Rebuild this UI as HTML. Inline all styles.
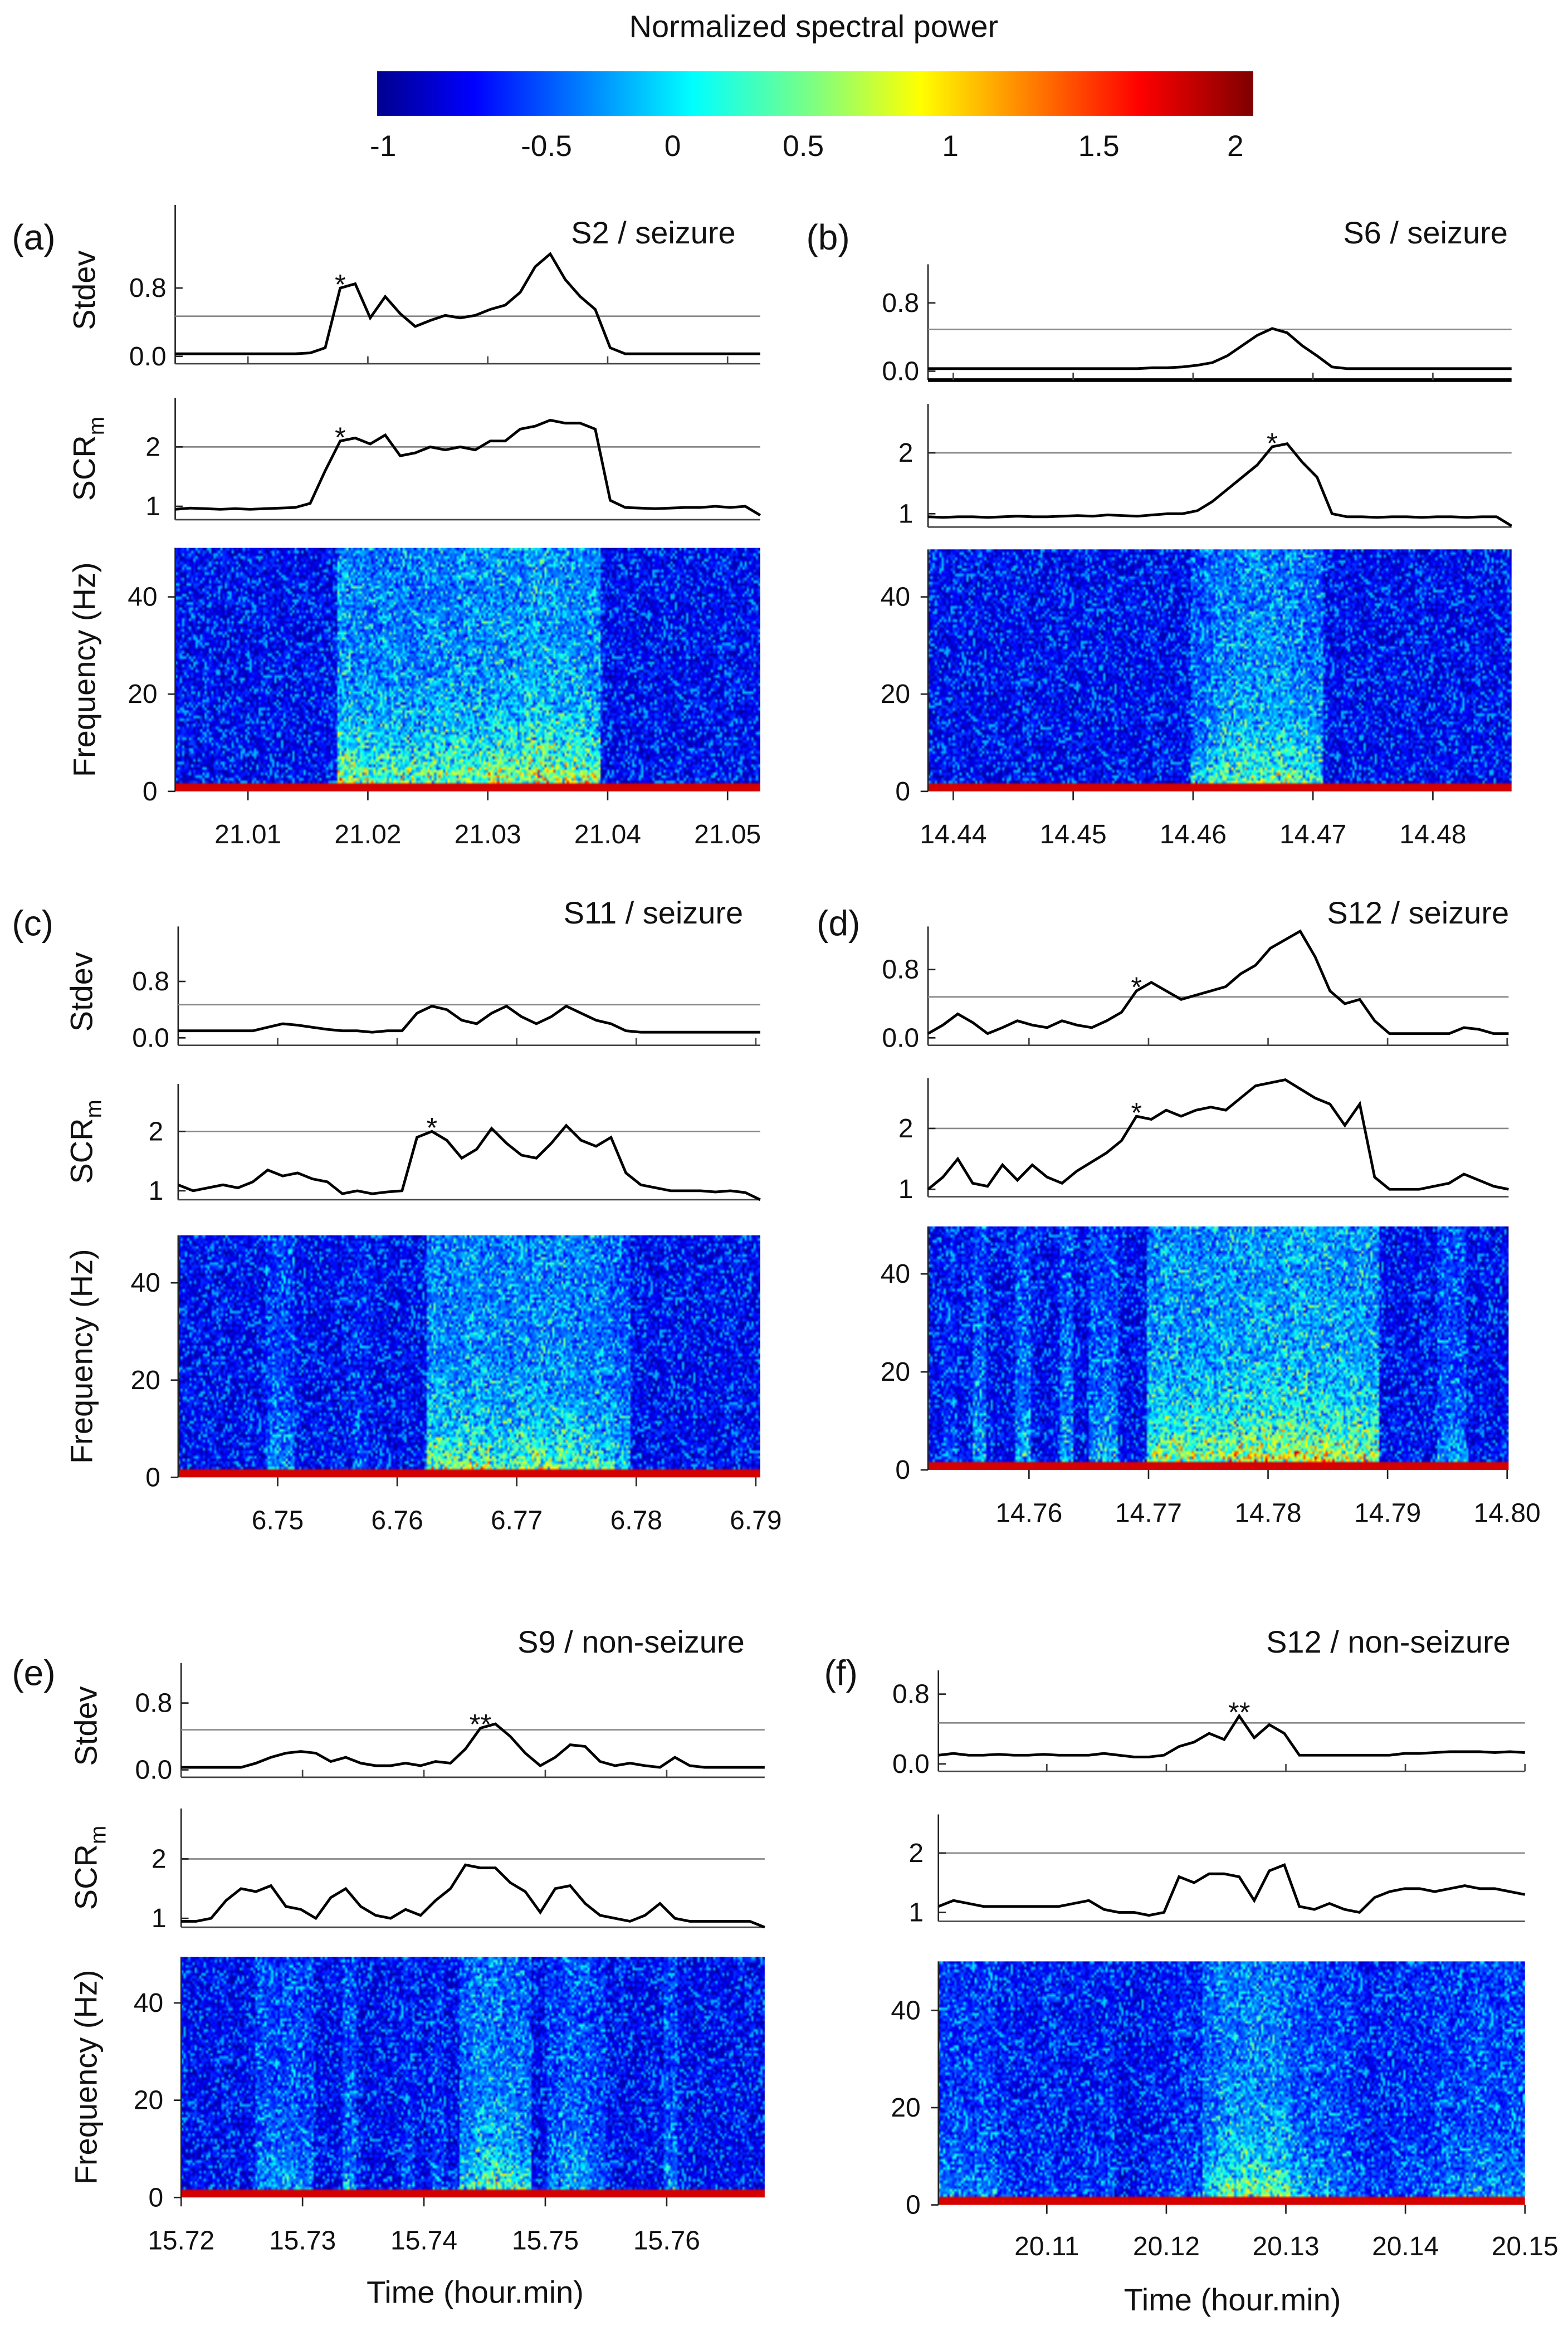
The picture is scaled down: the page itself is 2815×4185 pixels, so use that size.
<!DOCTYPE html>
<html><head><meta charset="utf-8"><style>
html,body{margin:0;padding:0;background:#fff;}
#wrap{position:absolute;left:0;top:0;width:1056px;height:1570px;transform:scale(2.66572);transform-origin:0 0;}
canvas{position:absolute;}
svg{position:absolute;left:0;top:0;}
text{font-family:"Liberation Sans",sans-serif;fill:#111;}
</style></head><body>
<div id="wrap">
<svg id="svg" width="1056" height="1570" viewBox="0 0 1056 1570">
<defs><linearGradient id="jet" x1="0" x2="1" y1="0" y2="0">
<stop offset="0" stop-color="#00008f"/><stop offset="0.11" stop-color="#0000ff"/><stop offset="0.36" stop-color="#00ffff"/><stop offset="0.5" stop-color="#7fff7f"/><stop offset="0.62" stop-color="#ffff00"/><stop offset="0.87" stop-color="#ff0000"/><stop offset="1" stop-color="#7f0000"/></linearGradient></defs>
<text x="548" y="25" font-size="21" text-anchor="middle">Normalized spectral power</text>
<rect x="254" y="48" width="590" height="30" fill="url(#jet)"/>
</svg>
</div>
<script>
// ---- data ----
const sdA=[0.03,0.03,0.03,0.03,0.03,0.03,0.03,0.03,0.03,0.04,0.1,0.8,0.85,0.45,0.7,0.5,0.35,0.42,0.48,0.45,0.48,0.55,0.6,0.75,1.05,1.2,0.9,0.7,0.55,0.1,0.03,0.03,0.03,0.03,0.03,0.03,0.03,0.03,0.03,0.03];
const scrA=[0.95,0.97,0.96,0.95,0.96,0.95,0.96,0.97,0.98,1.05,1.6,2.1,2.15,2.05,2.2,1.85,1.9,2.0,1.95,2.0,1.95,2.1,2.1,2.3,2.35,2.45,2.4,2.4,2.3,1.1,0.98,0.97,0.96,0.97,0.98,0.98,1.0,0.98,1.0,0.85];
const sdB=[0.03,0.03,0.03,0.03,0.03,0.03,0.03,0.03,0.03,0.03,0.03,0.03,0.03,0.03,0.03,0.04,0.04,0.05,0.07,0.1,0.18,0.3,0.42,0.5,0.45,0.3,0.18,0.05,0.03,0.03,0.03,0.03,0.03,0.03,0.03,0.03,0.03,0.03,0.03,0.03];
const scrB=[0.95,0.94,0.95,0.95,0.94,0.95,0.96,0.95,0.95,0.96,0.97,0.96,0.98,0.97,0.96,0.98,1.0,1.0,1.05,1.2,1.4,1.6,1.8,2.1,2.15,1.85,1.6,1.0,0.95,0.95,0.94,0.95,0.95,0.94,0.95,0.95,0.94,0.95,0.95,0.8];
const sdC=[0.1,0.1,0.1,0.1,0.1,0.1,0.15,0.2,0.18,0.15,0.12,0.1,0.1,0.08,0.1,0.1,0.35,0.45,0.4,0.25,0.2,0.35,0.45,0.3,0.2,0.3,0.45,0.35,0.25,0.2,0.1,0.08,0.08,0.08,0.08,0.08,0.08,0.08,0.08,0.08];
const scrC=[1.1,1.0,1.05,1.1,1.05,1.15,1.35,1.25,1.3,1.2,1.15,0.95,1.0,0.95,0.98,1.0,1.9,2.0,1.85,1.55,1.7,2.05,1.8,1.6,1.55,1.8,2.1,1.85,1.75,1.9,1.3,1.1,1.05,1.0,1.0,1.0,0.98,1.0,0.97,0.85];
const sdD=[0.05,0.15,0.28,0.18,0.05,0.12,0.2,0.15,0.12,0.2,0.15,0.12,0.2,0.3,0.55,0.65,0.55,0.45,0.5,0.55,0.6,0.75,0.85,1.05,1.15,1.25,0.95,0.55,0.4,0.45,0.2,0.05,0.05,0.05,0.05,0.05,0.12,0.1,0.05,0.05];
const scrD=[1.0,1.2,1.5,1.1,1.05,1.4,1.15,1.4,1.2,1.1,1.3,1.45,1.6,1.8,2.2,2.15,2.3,2.2,2.3,2.35,2.3,2.5,2.7,2.75,2.8,2.65,2.5,2.4,2.05,2.4,1.2,1.0,1.0,1.0,1.05,1.1,1.25,1.15,1.05,1.0];
const sdE=[0.03,0.03,0.03,0.03,0.03,0.08,0.15,0.2,0.22,0.2,0.1,0.15,0.08,0.05,0.05,0.08,0.05,0.1,0.08,0.25,0.5,0.55,0.4,0.2,0.05,0.15,0.3,0.28,0.1,0.05,0.08,0.05,0.03,0.15,0.05,0.03,0.03,0.03,0.03,0.03];
const scrE=[0.95,0.95,1.0,1.3,1.5,1.45,1.55,1.2,1.15,1.0,1.35,1.5,1.2,1.05,1.0,1.15,1.05,1.3,1.5,1.9,1.85,1.85,1.6,1.45,1.1,1.5,1.55,1.25,1.05,1.0,0.95,1.05,1.25,1.0,0.95,0.95,0.95,0.95,0.95,0.85];
const sdF=[0.1,0.12,0.1,0.1,0.11,0.1,0.1,0.11,0.1,0.1,0.1,0.12,0.1,0.08,0.08,0.1,0.2,0.25,0.35,0.28,0.55,0.3,0.45,0.35,0.1,0.1,0.1,0.1,0.1,0.1,0.1,0.12,0.12,0.13,0.14,0.14,0.14,0.13,0.14,0.13];
const scrF=[1.1,1.2,1.15,1.1,1.1,1.1,1.1,1.1,1.1,1.15,1.2,1.05,1.0,1.0,0.95,1.0,1.6,1.5,1.65,1.65,1.6,1.2,1.7,1.8,1.1,1.05,1.15,1.05,1.0,1.25,1.35,1.4,1.4,1.35,1.4,1.45,1.4,1.4,1.35,1.3];
const actA=[0,0,0,0,0,0,0,0,0,0,0,1.0,0.9,0.8,0.9,0.8,0.8,0.9,0.9,0.9,0.9,1.0,1.0,1.0,1.1,1.1,1.0,1.0,0.9,0,0,0,0,0,0,0,0,0,0,0];
const actB=[0,0,0,0,0,0,0,0,0,0,0,0,0,0,0,0,0,0,0.5,0.7,0.8,0.9,0.9,0.9,0.85,0.8,0.7,0,0,0,0,0,0,0,0,0,0,0,0,0];
const actC=[0,0,0,0,0,0,0.35,0.35,0,0,0,0,0.2,0,0,0,0,0.9,0.85,0.85,0.9,0.85,0.8,0.9,0.9,0.85,0.9,0.8,0.75,0.65,0.55,0,0,0,0,0,0,0,0,0];
const actD=[0,0.2,0,0.5,0,0,0.5,0,0,0.5,0,0.4,0.5,0,0,0.9,1.0,1.0,0.95,1.0,1.0,1.05,1.1,1.1,1.1,1.15,1.1,1.1,1.05,1.0,1.0,0,0,0,0,0.4,0.4,0,0,0];
const actE=[0,0,0,0,0,0.4,0.4,0.4,0.35,0,0,0.4,0,0,0,0.2,0,0.2,0,0.6,0.75,0.8,0.7,0.6,0,0.3,0.5,0.5,0.3,0,0,0,0,0.4,0,0,0,0,0,0];
const actF=[0.3,0.3,0.3,0.3,0.15,0.1,0.1,0.15,0.1,0.1,0.1,0.2,0,0,0.1,0.1,0.2,0.2,0.6,0.85,0.85,0.85,0.85,0.8,0.5,0.4,0.4,0.35,0.2,0.1,0.15,0.2,0.2,0.2,0.3,0.3,0.4,0.4,0.35,0.35];
const ticksA=[21.01,21.02,21.03,21.04,21.05], ticksB=[14.44,14.45,14.46,14.47,14.48], ticksC=[6.75,6.76,6.77,6.78,6.79], ticksD=[14.76,14.77,14.78,14.79,14.80], ticksE=[15.72,15.73,15.74,15.75,15.76], ticksF=[20.11,20.12,20.13,20.14,20.15];
const cbTicks=['-1','-0.5','0','0.5','1','1.5','2'];
// ---- layout ----
const NS='http://www.w3.org/2000/svg';
const svg=document.getElementById('svg');
const wrap=document.getElementById('wrap');
function el(tag,attrs,parent){const e=document.createElementNS(NS,tag);for(const k in attrs)e.setAttribute(k,attrs[k]);(parent||svg).appendChild(e);return e;}
function txt(x,y,s,size,anchor,parent){const t=el('text',{x:x,y:y,'font-size':size,'text-anchor':anchor||'middle'},parent);t.textContent=s;return t;}
const cbX=[258,368,453,541,640,740,832];
cbTicks.forEach((s,i)=>{const t=txt(cbX[i],105,s,20);});

const panels=[
{id:'a',lab:'(a)',labx:8,laby:168,title:'S2 / seizure',tx:440,ty:164,x0:118,x1:512,sd:[sdA,138,245,240,194],thr:0.47,scr:[scrA,268,350,341,301],spec:[369,533,402],act:actA,ticks:ticksA,tk:[167,490],ty2:568,titles:57,star:[[11,'sd','*'],[11,'scr','*']]},
{id:'b',lab:'(b)',labx:543,laby:168,title:'S6 / seizure',tx:960,ty:164,x0:625,x1:1018,sd:[sdB,178,256,250,204],thr:0.49,scr:[scrB,272,355,346,305],spec:[370,533,402],act:actB,ticks:ticksB,tk:[642,965],ty2:568,titles:0,star:[[23,'scr','*']],thick:true},
{id:'c',lab:'(c)',labx:8,laby:630,title:'S11 / seizure',tx:440,ty:622,x0:120,x1:512,sd:[sdC,624,704,699,661],thr:0.47,scr:[scrC,730,808,802,762],spec:[832,995,864],act:actC,ticks:ticksC,tk:[187,509],ty2:1030,titles:55,star:[[17,'scr','*']]},
{id:'d',lab:'(d)',labx:550,laby:630,title:'S12 / seizure',tx:955,ty:622,x0:625,x1:1016,sd:[sdD,624,704,699,653],thr:0.48,scr:[scrD,726,806,801,760],spec:[826,990,858],act:actD,ticks:ticksD,tk:[693,1015],ty2:1025,titles:0,star:[[14,'sd','*'],[14,'scr','*']]},
{id:'e',lab:'(e)',labx:8,laby:1135,title:'S9 / non-seizure',tx:425,ty:1113,x0:122,x1:515,sd:[sdE,1120,1197,1192,1147],thr:0.48,scr:[scrE,1218,1298,1292,1252],spec:[1318,1480,1349],act:actE,ticks:ticksE,tk:[122,449],ty2:1515,titles:58,star:[[20,'sd','**']],xlabel:[320,1551]},
{id:'f',lab:'(f)',labx:555,laby:1135,title:'S12 / non-seizure',tx:935,ty:1113,x0:632,x1:1027,sd:[sdF,1125,1193,1188,1141],thr:0.47,scr:[scrF,1222,1294,1288,1248],spec:[1321,1485,1354],act:actF,ticks:ticksF,tk:[705,1027],ty2:1519,titles:0,star:[[20,'sd','**']],xlabel:[830,1556]}
];
let seed=12345;function rnd(){seed=(seed*1103515245+12345)&0x7fffffff;return seed/0x7fffffff;}
function jet(v){let t=(v+1)/3;t=Math.max(0,Math.min(1,t));const c=x=>Math.round(255*Math.max(0,Math.min(1,1.5-Math.abs(4*t-x))));return [c(3),c(2),c(1)];}

panels.forEach(p=>{
  const g=el('g',{});
  
  
  const l=txt(p.labx,p.laby,p.lab,24,'start',g);
  
  const tt=txt(p.tx,p.ty,p.title,21,'middle',g);
  
  const N=40, xi=i=>p.x0+i*(p.x1-p.x0)/(N-1);
  const tv0=p.ticks[0],tv1=p.ticks[p.ticks.length-1];
  const xt=v=>p.tk[0]+(v-tv0)*(p.tk[1]-p.tk[0])/(tv1-tv0);
  const [sd,sTop,sBot,y0,y08]=p.sd; const ys=v=>y0-v*(y0-y08)/0.8;
  const gs=el('g',{},g);
  el('line',{x1:p.x0,y1:sTop,x2:p.x0,y2:sBot,stroke:'#222','stroke-width':1},gs);
  el('line',{x1:p.x0,y1:sBot,x2:p.x1,y2:sBot,stroke:p.thick?'#000':'#444','stroke-width':p.thick?2.5:1},gs);
  el('line',{x1:p.x0,y1:ys(p.thr),x2:p.x1,y2:ys(p.thr),stroke:'#888','stroke-width':1},gs);
  [[0,'0.0'],[0.8,'0.8']].forEach(([v,s])=>{el('line',{x1:p.x0,y1:ys(v),x2:p.x0+5,y2:ys(v),stroke:'#222'},gs);const t=txt(p.x0-6,ys(v)+6,s,18,'end',gs);});
  p.ticks.forEach(v=>el('line',{x1:xt(v),y1:sBot,x2:xt(v),y2:sBot-5,stroke:'#444'},gs));
  const pl=el('polyline',{points:sd.map((v,i)=>xi(i)+','+ys(v)).join(' '),fill:'none',stroke:'#000','stroke-width':1.8},gs);
  
  const [sc,cTop,cBot,y1,y2]=p.scr; const yc=v=>y1-(v-1)*(y1-y2);
  const gc=el('g',{},g);
  el('line',{x1:p.x0,y1:cTop,x2:p.x0,y2:cBot,stroke:'#222'},gc);
  el('line',{x1:p.x0,y1:cBot,x2:p.x1,y2:cBot,stroke:'#444'},gc);
  el('line',{x1:p.x0,y1:yc(2),x2:p.x1,y2:yc(2),stroke:'#888'},gc);
  [[1,'1'],[2,'2']].forEach(([v,s])=>{el('line',{x1:p.x0,y1:yc(v),x2:p.x0+5,y2:yc(v),stroke:'#222'},gc);const t=txt(p.x0-10,yc(v)+6,s,18,'end',gc);});
  const pc=el('polyline',{points:sc.map((v,i)=>xi(i)+','+yc(v)).join(' '),fill:'none',stroke:'#000','stroke-width':1.8},gc);
  
  p.star.forEach(([i,w,s])=>{const y=w==='sd'?ys(sd[i]):yc(sc[i]);const t=txt(xi(i),y+4,s,19,'middle',g);});
  const [top,bot,y40]=p.spec; const yf=f=>bot-f*(bot-y40)/40;
  const cv=document.createElement('canvas');
  
  
  const W=260,H=90;cv.width=W;cv.height=H;
  cv.style.left=p.x0+'px';cv.style.top=top+'px';cv.style.width=(p.x1-p.x0)+'px';cv.style.height=(bot-top)+'px';
  wrap.insertBefore(cv,svg);
  const ctx=cv.getContext('2d');const img=ctx.createImageData(W,H);
  const fTop=(bot-top)/(bot-y40)*40;
  for(let c=0;c<W;c++){const a=p.act[Math.min(N-1,Math.floor(c/W*N))];
    for(let r=0;r<H;r++){const f=(H-1-r+0.5)/H*fTop;
      const n=rnd();
      let v=-0.62+(n-0.5)*0.6+(n>0.85?0.25:0);
      v+=a*(0.45+1.1*Math.exp(-f/9))*(0.4+1.0*rnd());
      if(f<1.6) v=1.75;
      const [R,G,B]=jet(v);const k=(r*W+c)*4;img.data[k]=R;img.data[k+1]=G;img.data[k+2]=B;img.data[k+3]=255;}}
  ctx.putImageData(img,0,0);
  const gp=el('g',{},g);
  el('line',{x1:p.x0,y1:top,x2:p.x0,y2:bot,stroke:'#222'},gp);
  [0,20,40].forEach(v=>{el('line',{x1:p.x0-5,y1:yf(v),x2:p.x0,y2:yf(v),stroke:'#222'},gp);const t=txt(p.x0-12,yf(v)+6,String(v),18,'end',gp);});
  p.ticks.forEach(v=>{el('line',{x1:xt(v),y1:bot,x2:xt(v),y2:bot+6,stroke:'#222'},gp);const t=txt(xt(v),p.ty2,v.toFixed(2),18,'middle',gp);});
  if(p.titles){const x=p.titles;
    let t=txt(0,0,'Stdev',21,'middle',g);t.setAttribute('transform','translate('+(x+7)+','+((sTop+sBot)/2+4)+') rotate(-90)');
    t=el('text',{'font-size':21,'text-anchor':'middle',transform:'translate('+(x+7)+','+((cTop+cBot)/2)+') rotate(-90)'},g);t.innerHTML='SCR<tspan font-size="15" dy="6">m</tspan>';
    t=txt(0,0,'Frequency (Hz)',21,'middle',g);t.setAttribute('transform','translate('+(x+7)+','+((top+bot)/2)+') rotate(-90)');}
  if(p.xlabel){const t=txt(p.xlabel[0],p.xlabel[1],'Time (hour.min)',21,'middle',g);}
});
</script>
</body></html>
